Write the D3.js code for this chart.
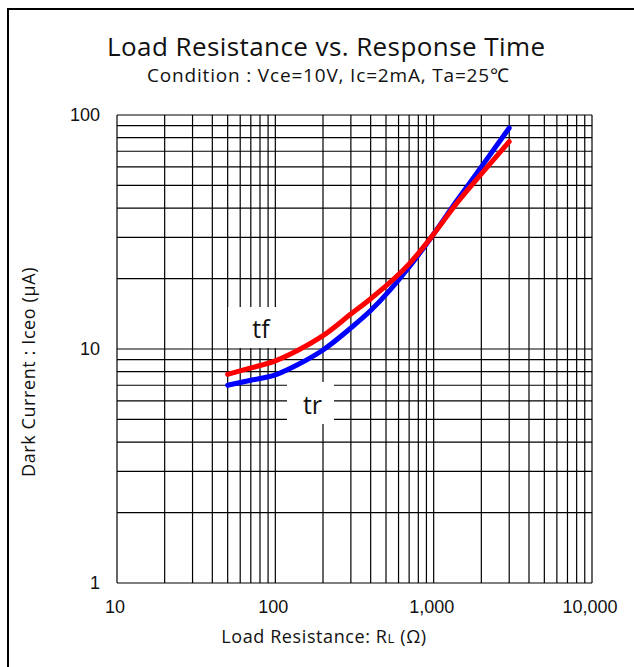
<!DOCTYPE html>
<html>
<head>
<meta charset="utf-8">
<script src="https://cdn.jsdelivr.net/npm/d3@7"></script>
<style>
  body { margin: 0; background: #fff; }
  svg { display: block; }
</style>
</head>
<body>
<div class="chart"></div>
<script>
// Chart data
const resistance = [50, 70, 100, 140, 200, 300, 400, 700, 1000, 1400, 2000, 3000];
const trValues = [7.0, 7.35, 7.75, 8.6, 9.9, 12.3, 14.6, 22.4, 31.0, 43, 60, 88];
const tfValues = [7.8, 8.3, 8.9, 9.9, 11.4, 14.1, 16.4, 23.1, 31.0, 42, 56, 77];
const xTickValues = [10, 100, 1000, 10000];
const xTickLabels = ['10', '100', '1,000', '10,000'];
const yTickValues = [1, 10, 100];
const yTickLabels = ['1', '10', '100'];

const width = 634, height = 667;
const margin = { top: 115, right: 42, bottom: 84, left: 117 };
const plotW = width - margin.left - margin.right;
const plotH = height - margin.top - margin.bottom;
const textFont = "'Open Sans', sans-serif";

const svg = d3.select('.chart')
  .append('svg')
  .attr('width', width)
  .attr('height', height);

// outer frame
svg.append('rect')
  .attr('x', 8).attr('y', 9)
  .attr('width', width + 20).attr('height', height + 20)
  .attr('fill', 'none')
  .attr('stroke', '#000')
  .attr('stroke-width', 2);

// titles
svg.append('text')
  .attr('x', 326).attr('y', 56)
  .attr('text-anchor', 'middle')
  .style('font-family', textFont)
  .style('font-size', '26px')
  .attr('fill', '#111')
  .attr('textLength', 438)
  .attr('lengthAdjust', 'spacing')
  .text('Load Resistance vs. Response Time');

svg.append('text')
  .attr('x', 328).attr('y', 82)
  .attr('text-anchor', 'middle')
  .style('font-family', textFont)
  .style('font-size', '19px')
  .attr('fill', '#111')
  .attr('textLength', 362)
  .attr('lengthAdjust', 'spacing')
  .text('Condition : Vce=10V, Ic=2mA, Ta=25℃');

const g = svg.append('g')
  .attr('transform', 'translate(' + margin.left + ',' + margin.top + ')');

const x = d3.scaleLog().domain([10, 10000]).range([0, plotW]);
const y = d3.scaleLog().domain([1, 100]).range([plotH, 0]);

// grid lines at 1..9 of every decade
const xGrid = [], yGrid = [];
for (let d = 10; d < 10000; d *= 10) for (let k = 1; k < 10; k++) xGrid.push(d * k);
xGrid.push(10000);
for (let d = 1; d < 100; d *= 10) for (let k = 1; k < 10; k++) yGrid.push(d * k);
yGrid.push(100);

g.selectAll('.vgrid')
  .data(xGrid).enter().append('line')
  .attr('class', 'vgrid')
  .attr('x1', d => x(d)).attr('x2', d => x(d))
  .attr('y1', 0).attr('y2', plotH)
  .attr('stroke', '#000').attr('stroke-width', 1.2);

g.selectAll('.hgrid')
  .data(yGrid).enter().append('line')
  .attr('class', 'hgrid')
  .attr('x1', 0).attr('x2', plotW)
  .attr('y1', d => y(d)).attr('y2', d => y(d))
  .attr('stroke', '#000').attr('stroke-width', 1.2);

// tick labels
g.selectAll('.xlab')
  .data(xTickValues).enter().append('text')
  .attr('class', 'xlab')
  .attr('x', d => x(d) - 2)
  .attr('y', plotH + 30)
  .attr('text-anchor', 'middle')
  .style('font-family', "'Liberation Sans', Arial, sans-serif")
  .style('font-size', '18px')
  .attr('fill', '#111')
  .text((d, i) => xTickLabels[i]);

g.selectAll('.ylab')
  .data(yTickValues).enter().append('text')
  .attr('class', 'ylab')
  .attr('x', -17)
  .attr('y', d => y(d))
  .attr('dy', '0.35em')
  .attr('text-anchor', 'end')
  .style('font-family', "'Liberation Sans', Arial, sans-serif")
  .style('font-size', '18px')
  .attr('fill', '#111')
  .text((d, i) => yTickLabels[i]);

// axis titles
const xTitle = svg.append('text')
  .attr('x', 324).attr('y', 643)
  .attr('text-anchor', 'middle')
  .style('font-family', textFont)
  .style('font-size', '18px')
  .style('letter-spacing', '0.6px')
  .attr('fill', '#111');
xTitle.append('tspan').text('Load Resistance: R');
xTitle.append('tspan').style('font-size', '13px').text('L');
xTitle.append('tspan').text(' (Ω)');

svg.append('text')
  .attr('transform', 'translate(35,372) rotate(-90)')
  .attr('text-anchor', 'middle')
  .style('font-family', textFont)
  .style('font-size', '18px')
  .style('letter-spacing', '0.6px')
  .attr('fill', '#111')
  .text('Dark Current : Iceo (μA)');

// white label boxes that cut the grid
const labelBoxes = [
  { name: 'tf', x0: 228, x1: 290, y0: 307, y1: 348 },
  { name: 'tr', x0: 287, x1: 334, y0: 382, y1: 424 }
];
labelBoxes.forEach(b => {
  svg.append('rect')
    .attr('x', b.x0).attr('y', b.y0)
    .attr('width', b.x1 - b.x0).attr('height', b.y1 - b.y0)
    .attr('fill', '#fff');
  svg.append('text')
    .attr('x', (b.x0 + b.x1) / 2 + 2)
    .attr('y', (b.y0 + b.y1) / 2 + 2)
    .attr('dy', '0.35em')
    .attr('text-anchor', 'middle')
    .style('font-family', textFont)
    .style('font-size', '25px')
    .attr('fill', '#111')
    .text(b.name);
});

// curves
const line = d3.line()
  .x(d => x(d[0]))
  .y(d => y(d[1]))
  .curve(d3.curveMonotoneX);

g.append('path')
  .datum(resistance.map((r, i) => [r, trValues[i]]))
  .attr('d', line)
  .attr('fill', 'none')
  .attr('stroke', '#0000ff')
  .attr('stroke-width', 5)
  .attr('stroke-linecap', 'round');

g.append('path')
  .datum(resistance.map((r, i) => [r, tfValues[i]]))
  .attr('d', line)
  .attr('fill', 'none')
  .attr('stroke', '#ff0000')
  .attr('stroke-width', 5)
  .attr('stroke-linecap', 'round');
</script>
</body>
</html>
